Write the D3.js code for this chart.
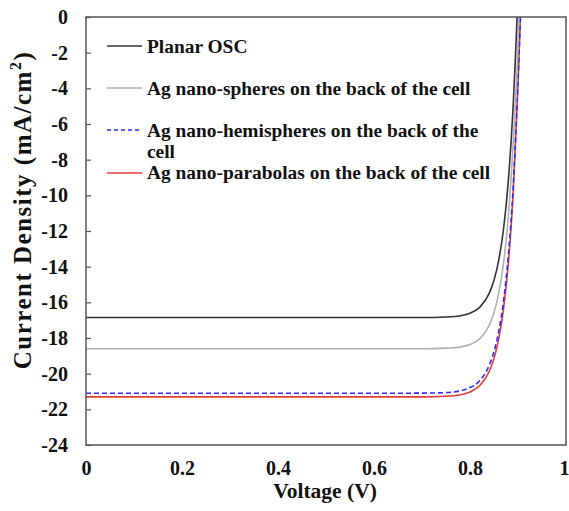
<!DOCTYPE html>
<html><head><meta charset="utf-8">
<script src="https://cdn.jsdelivr.net/npm/d3@7"></script>
<style>body{margin:0;background:#fff}svg{display:block}</style>
</head><body>
<svg id="c" width="569" height="511"></svg>
<script>
const seriesNames = ["Planar OSC","Ag nano-spheres on the back of the cell","Ag nano-hemispheres on the back of the cell","Ag nano-parabolas on the back of the cell"];
const voltage = [0, 0.3, 0.6, 0.7, 0.75, 0.78, 0.80, 0.82, 0.84, 0.85, 0.86, 0.87, 0.88, 0.89, 0.9, 0.905, 0.912];
const planar      = [-16.85,-16.85,-16.85,-16.85,-16.82,-16.75,-16.61,-16.28,-15.50,-14.76,-13.62,-11.86,-9.15,-4.95,1.5,6.0,12];
const spheres     = [-18.60,-18.60,-18.60,-18.60,-18.57,-18.50,-18.37,-18.05,-17.29,-16.57,-15.47,-13.77,-11.14,-7.07,-1.5,3.5,11];
const hemispheres = [-21.10,-21.10,-21.10,-21.09,-21.06,-20.96,-20.78,-20.40,-19.53,-18.76,-17.62,-15.89,-13.34,-9.52,-3.6,0,6.8];
const parabolas   = [-21.30,-21.30,-21.30,-21.30,-21.27,-21.18,-21.03,-20.68,-19.88,-19.15,-18.04,-16.34,-13.78,-9.90,-3.8,0,7.2];
const xTicks = [0,0.2,0.4,0.6,0.8,1];
const yTicks = [0,-2,-4,-6,-8,-10,-12,-14,-16,-18,-20,-22,-24];

const svg = d3.select("#c");
const m = {l:86, t:17, r:566, b:445};
const x = d3.scaleLinear().domain([0,1]).range([m.l,m.r]);
const y = d3.scaleLinear().domain([-24,0]).range([m.b,m.t]);
const font = "'Liberation Serif','Times New Roman',serif";

svg.append("clipPath").attr("id","clip").append("rect")
  .attr("x",m.l).attr("y",m.t).attr("width",m.r-m.l).attr("height",m.b-m.t);

const styles = [
  {data:planar, color:"#333", dash:null, w:1.6},
  {data:spheres, color:"#b0b0b0", dash:null, w:1.6},
  {data:hemispheres, color:"#2b2bff", dash:"5,3", w:1.6},
  {data:parabolas, color:"#e33a3a", dash:null, w:1.6}
];
const line = d3.line().x((d,i)=>x(voltage[i])).y(d=>y(d)).curve(d3.curveMonotoneX);
const g = svg.append("g").attr("clip-path","url(#clip)");
[3,2,1,0].forEach(k=>{
  const s = styles[k];
  g.append("path").datum(s.data).attr("d",line)
   .attr("fill","none").attr("stroke",s.color).attr("stroke-width",s.w)
   .attr("stroke-dasharray",s.dash);
});

// frame
svg.append("rect").attr("x",m.l).attr("y",m.t).attr("width",m.r-m.l).attr("height",m.b-m.t)
  .attr("fill","none").attr("stroke","#555").attr("stroke-width",1.5);

// y axis
const ya = svg.append("g").attr("transform",`translate(${m.l},0)`)
  .call(d3.axisLeft(y).tickValues(yTicks).tickSizeInner(-5).tickSizeOuter(0).tickPadding(18).tickFormat(d=>String(d)));
ya.select(".domain").remove();
ya.selectAll("line").attr("stroke","#555").attr("stroke-width",1.2);
ya.selectAll("text").attr("font-family",font).attr("font-weight","bold").attr("font-size",20).attr("fill","#111");

// x axis
const xa = svg.append("g").attr("transform",`translate(0,${m.b})`)
  .call(d3.axisBottom(x).tickValues(xTicks).tickSize(0).tickPadding(16).tickFormat(d=>d===0||d===1?String(d):d3.format(".1f")(d)));
xa.select(".domain").remove();
xa.selectAll("text").attr("font-family",font).attr("font-weight","bold").attr("font-size",20).attr("fill","#111");
xa.selectAll(".tick").filter(d=>d===1).select("text").attr("text-anchor","end").attr("x",3);

// titles
svg.append("text").attr("x",325).attr("y",498).attr("text-anchor","middle")
  .attr("font-family",font).attr("font-weight","bold").attr("font-size",21.5).attr("fill","#111")
  .text("Voltage (V)");
const yt = svg.append("text").attr("transform","translate(31,210) rotate(-90)").attr("text-anchor","middle")
  .attr("font-family",font).attr("font-weight","bold").attr("font-size",25).attr("letter-spacing",1.5).attr("fill","#111");
yt.append("tspan").text("Current Density  (mA/cm");
yt.append("tspan").attr("font-size",16).attr("dy",-10).text("2");
yt.append("tspan").attr("dy",10).text(")");

// legend
const legRows = [
  {k:0, ly:46, lines:[{t:seriesNames[0], y:53}]},
  {k:1, ly:88, lines:[{t:seriesNames[1], y:95}]},
  {k:2, ly:130, lines:[{t:"Ag nano-hemispheres on the back of the", y:137},{t:"cell", y:158}]},
  {k:3, ly:173, lines:[{t:seriesNames[3], y:179}]}
];
legRows.forEach(r=>{
  const s = styles[r.k];
  svg.append("line").attr("x1",107).attr("x2",142).attr("y1",r.ly).attr("y2",r.ly)
    .attr("stroke",s.color).attr("stroke-width",s.w).attr("stroke-dasharray",s.dash?"4,3":null);
  r.lines.forEach(l=>{
    svg.append("text").attr("x",147).attr("y",l.y).attr("font-family",font).attr("font-weight","bold")
      .attr("font-size",19.4).attr("fill","#111").text(l.t);
  });
});
</script>
</body></html>
